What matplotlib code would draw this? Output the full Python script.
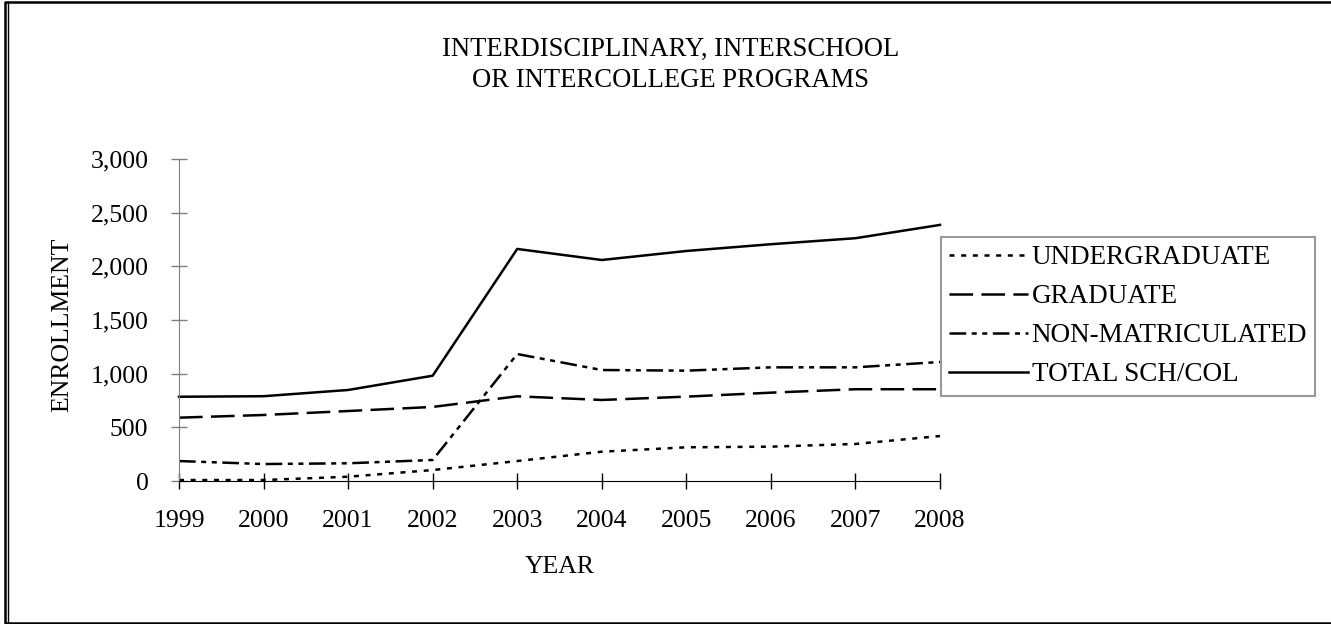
import matplotlib
matplotlib.use("Agg")
import matplotlib.pyplot as plt
from matplotlib.lines import Line2D

plt.rcParams['font.family'] = ['Liberation Serif', 'DejaVu Serif']
plt.rcParams['lines.scale_dashes'] = False

# Data
years = ['1999', '2000', '2001', '2002', '2003', '2004', '2005', '2006', '2007', '2008']
undergraduate = [9, 9, 40, 102, 186, 273, 314, 320, 345, 419]
graduate = [590, 615, 652, 690, 789, 755, 786, 823, 855, 855]
non_matric = [186, 158, 165, 196, 1183, 1034, 1028, 1059, 1059, 1109]
total = [785, 790, 848, 981, 2162, 2059, 2143, 2206, 2262, 2386]
yticks = [0, 500, 1000, 1500, 2000, 2500, 3000]

FS = 18.5
W, H = 1331, 624

fig = plt.figure(figsize=(W / 100, H / 100), dpi=100)
ax = fig.add_axes([179 / W, 1 - 481 / H, (940 - 179) / W, (481 - 159) / H])

x = list(range(len(years)))
ax.plot(x, undergraduate, color='black', lw=1.8, dashes=(3.6, 4.8), label='UNDERGRADUATE', clip_on=False)
ax.plot(x, graduate, color='black', lw=1.8, dashes=(17, 6), label='GRADUATE', clip_on=False)
ax.plot(x, non_matric, color='black', lw=1.8, dashes=(12, 4, 3.6, 4, 3.6, 4), label='NON-MATRICULATED', clip_on=False)
ax.plot(x, total, color='black', lw=1.8, label='TOTAL SCH/COL', clip_on=False)

ax.set_xlim(0, len(years) - 1)
ax.set_ylim(0, 3000)
ax.set_xticks(x)
ax.set_xticklabels(years)
ax.set_yticks(yticks)
ax.set_yticklabels([f"{v:,}" for v in yticks])
ax.tick_params(axis='both', direction='inout', length=12, width=1, labelsize=FS, colors='black')
ax.tick_params(axis='y', pad=16, color='#808080')
ax.tick_params(axis='x', pad=15)

ax.spines['top'].set_visible(False)
ax.spines['right'].set_visible(False)
ax.spines['left'].set_color('#808080')
ax.spines['bottom'].set_color('black')

fig.text(560 / W, 1 - 567 / H, 'YEAR', ha='center', va='center', fontsize=FS)
fig.text(62 / W, 1 - 325 / H, 'ENROLLMENT', ha='center', va='center', rotation=90, fontsize=FS)
fig.text(671 / W, 1 - 65 / H, 'INTERDISCIPLINARY, INTERSCHOOL\nOR INTERCOLLEGE PROGRAMS',
         ha='center', va='center', fontsize=19.2, linespacing=1.3)

leg = ax.legend(loc='upper left', bbox_to_anchor=(941 / W, 1 - 237 / H), bbox_transform=fig.transFigure,
                fontsize=19.5, frameon=True, fancybox=False, handlelength=2.9, handletextpad=0.15,
                labelspacing=0.52, borderpad=0.3, borderaxespad=0)
leg.get_frame().set_edgecolor('#808080')
leg.get_frame().set_linewidth(1.5)

# outer border: top, bottom and a double line on the left
fig.add_artist(Line2D([W / W, 5 / W, 5 / W, W / W],
                      [1 - 2 / H, 1 - 2 / H, 1 - 622.5 / H, 1 - 622.5 / H],
                      transform=fig.transFigure, color='black', lw=1.8))
fig.add_artist(Line2D([7.8 / W, 7.8 / W], [1 - 2 / H, 1 - 622 / H],
                      transform=fig.transFigure, color='black', lw=1.0))

fig.savefig('out.png', dpi=100)
